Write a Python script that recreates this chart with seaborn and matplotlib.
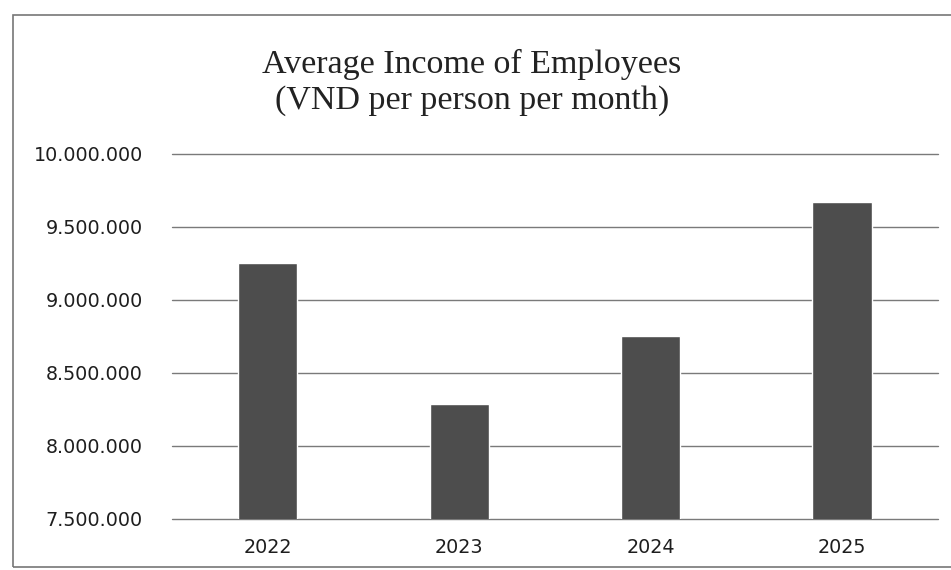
import numpy as np
import pandas as pd
import matplotlib.pyplot as plt
import seaborn as sns
from matplotlib.ticker import FuncFormatter
from matplotlib.patches import Rectangle

years = ["2022", "2023", "2024", "2025"]
income = [9250000, 8290000, 8750000, 9670000]
y_ticks = [7500000, 8000000, 8500000, 9000000, 9500000, 10000000]

sns.set_theme(style="white")

df = pd.DataFrame({"year": years, "income": income})

fig = plt.figure(figsize=(9.51, 5.70), dpi=100)
ax = fig.add_axes([0.181, 0.0895, 0.805, 0.641])

sns.barplot(df, x="year", y="income", color="#4d4d4d", width=0.31,
            saturation=1, ax=ax, zorder=3)

ax.set_ylim(7500000, 10000000)
ax.set_yticks(y_ticks)
ax.yaxis.set_major_formatter(FuncFormatter(lambda v, p: f"{int(v):,}".replace(",", ".")))
ax.grid(axis="y", color="#7a7a7a", linewidth=1.0, zorder=0)
ax.set_axisbelow(True)
for gl in ax.get_ygridlines():
    gl.set_clip_on(False)
for s in ax.spines.values():
    s.set_visible(False)
ax.tick_params(axis="y", length=0, pad=21, labelsize=13.8, labelcolor="#1e1e1e")
ax.tick_params(axis="x", length=0, pad=14, labelsize=13.8, labelcolor="#1e1e1e")
for lab in ax.get_yticklabels() + ax.get_xticklabels():
    lab.set_family("DejaVu Sans")
ax.set_xlabel("")
ax.set_ylabel("")

fig.text(0.496, 0.856, "Average Income of Employees\n(VND per person per month)",
         ha="center", va="center", fontsize=24.5, family="Liberation Serif",
         color="#222222", linespacing=1.22)

# scanned page frame
fig.add_artist(Rectangle((13 / 951, 3 / 570), 1.2, 552 / 570, transform=fig.transFigure,
                         fill=False, edgecolor="#777777", linewidth=1.2))

fig.savefig("out.png", dpi=100)
plt.close()
